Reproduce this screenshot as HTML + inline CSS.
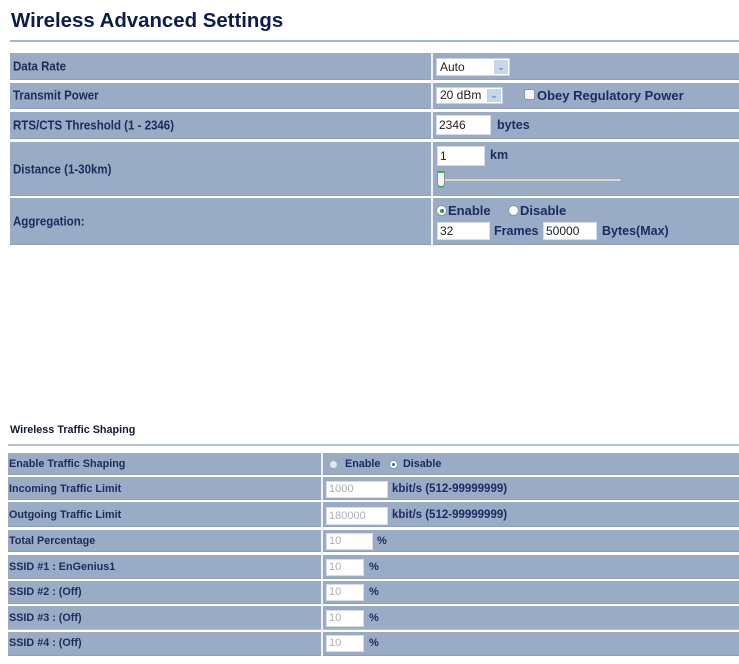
<!DOCTYPE html>
<html>
<head>
<meta charset="utf-8">
<style>
  html,body{margin:0;padding:0;background:#fff;}
  body{width:739px;height:664px;position:relative;overflow:hidden;font-family:"Liberation Sans",Arial,sans-serif;}
  .a{position:absolute;}
  .row{position:absolute;background:#9aacc5;border-bottom:1px solid #8d9fba;box-sizing:border-box;}
  .vs{position:absolute;background:#eef2f7;}
  .lbl{position:absolute;font-weight:bold;color:#1b2b5a;white-space:nowrap;line-height:1;}
  .ul{font-size:11.5px;left:13px;transform:scaleY(1.12);transform-origin:0 50%;}
  .ll{font-size:10.8px;left:9px;}
  .txt{position:absolute;font-weight:bold;color:#1b2b62;white-space:nowrap;line-height:1;}
  .inp{position:absolute;background:#fff;border:1px solid #d6dde8;box-sizing:border-box;font-size:12px;color:#222;line-height:1;padding-left:2px;white-space:nowrap;}
  .dis{color:#aab0b8;font-size:11px;}
  .sel{position:absolute;background:#fff;border:1px solid #c9d3e2;box-sizing:border-box;font-size:12px;color:#222;padding-left:3px;}
  .arr{position:absolute;top:1px;bottom:1px;right:1px;width:14px;background:#c7d6ee;color:#4a6aa0;font-size:9px;text-align:center;line-height:15px;}
</style>
</head>
<body>

<!-- ===== Upper section ===== -->
<div class="a" style="left:11px;top:9px;font-size:20.4px;font-weight:bold;color:#0c1d4c;white-space:nowrap;line-height:24px;">Wireless Advanced Settings</div>
<div class="a" style="left:10px;top:40px;width:729px;height:2px;background:#a7b5cc;"></div>

<div class="row" style="left:10px;top:53px;width:729px;height:27px;"></div>
<div class="row" style="left:10px;top:83px;width:729px;height:26px;"></div>
<div class="row" style="left:10px;top:112px;width:729px;height:27px;"></div>
<div class="row" style="left:10px;top:142px;width:729px;height:54px;"></div>
<div class="row" style="left:10px;top:198px;width:729px;height:47px;"></div>
<div class="vs" style="left:431px;top:53px;width:2px;height:192px;"></div>

<div class="lbl ul" style="top:62px;">Data Rate</div>
<div class="lbl ul" style="top:91px;">Transmit Power</div>
<div class="lbl ul" style="top:121px;">RTS/CTS Threshold (1 - 2346)</div>
<div class="lbl ul" style="top:165px;">Distance (1-30km)</div>
<div class="lbl ul" style="top:217px;">Aggregation:</div>

<!-- r1 -->
<div class="sel" style="left:436px;top:58px;width:74px;height:18px;line-height:16px;">Auto<div class="arr">&#8964;</div></div>
<!-- r2 -->
<div class="sel" style="left:436px;top:87px;width:67px;height:17px;line-height:15px;">20 dBm<div class="arr" style="line-height:13px;">&#8964;</div></div>
<div class="a" style="left:524px;top:89px;width:11px;height:11px;background:#f4f6fa;border:1px solid #8a96a8;box-sizing:border-box;border-radius:2px;"></div>
<div class="txt" style="left:537px;top:89px;font-size:13px;">Obey Regulatory Power</div>
<!-- r3 -->
<div class="inp" style="left:436px;top:115px;width:55px;height:20px;line-height:18px;">2346</div>
<div class="txt" style="left:497px;top:119px;font-size:12.5px;">bytes</div>
<!-- r4 -->
<div class="inp" style="left:437px;top:146px;width:48px;height:20px;line-height:18px;">1</div>
<div class="txt" style="left:490px;top:149px;font-size:12.5px;">km</div>
<div class="a" style="left:443px;top:178px;width:179px;height:4px;background:#d8dadc;border:1px solid #9ea4ab;box-sizing:border-box;border-radius:2px;"></div>
<div class="a" style="left:437px;top:171px;width:8px;height:17px;background:#f2f2f2;border:1px solid #8a9098;box-sizing:border-box;border-top:2px solid #3cb04a;border-bottom:2px solid #3cb04a;border-radius:1px 1px 4px 4px;"></div>
<!-- r5 -->
<div class="a" style="left:436px;top:205px;width:11px;height:11px;border-radius:50%;background:#fff;border:1px solid #8a96a8;box-sizing:border-box;"></div>
<div class="a" style="left:439.5px;top:208.5px;width:4px;height:4px;border-radius:50%;background:#2a9a3a;"></div>
<div class="txt" style="left:448px;top:204px;font-size:13px;">Enable</div>
<div class="a" style="left:508px;top:205px;width:11px;height:11px;border-radius:50%;background:#fff;border:1px solid #8a96a8;box-sizing:border-box;"></div>
<div class="txt" style="left:520px;top:204px;font-size:13px;">Disable</div>
<div class="inp" style="left:437px;top:222px;width:53px;height:18px;line-height:16px;">32</div>
<div class="txt" style="left:494px;top:225px;font-size:12.5px;">Frames</div>
<div class="inp" style="left:543px;top:222px;width:54px;height:18px;line-height:16px;">50000</div>
<div class="txt" style="left:602px;top:225px;font-size:12.5px;">Bytes(Max)</div>

<!-- ===== Lower section ===== -->
<div class="a" style="left:10px;top:424px;font-size:10.8px;font-weight:bold;color:#121a2e;white-space:nowrap;line-height:13px;">Wireless Traffic Shaping</div>
<div class="a" style="left:8px;top:444px;width:731px;height:2px;background:#b4c1d4;"></div>

<div class="row" style="left:8px;top:453px;width:731px;height:22px;"></div>
<div class="row" style="left:8px;top:477px;width:731px;height:23px;"></div>
<div class="row" style="left:8px;top:502px;width:731px;height:25px;"></div>
<div class="row" style="left:8px;top:530px;width:731px;height:22px;"></div>
<div class="row" style="left:8px;top:555px;width:731px;height:24px;"></div>
<div class="row" style="left:8px;top:581px;width:731px;height:23px;"></div>
<div class="row" style="left:8px;top:606px;width:731px;height:24px;border-bottom:1px solid #b3c1d4;"></div>
<div class="row" style="left:8px;top:632px;width:731px;height:24px;"></div>
<div class="vs" style="left:321px;top:453px;width:2px;height:203px;"></div>

<div class="lbl ll" style="top:459px;">Enable Traffic Shaping</div>
<div class="lbl ll" style="top:484px;">Incoming Traffic Limit</div>
<div class="lbl ll" style="top:510px;">Outgoing Traffic Limit</div>
<div class="lbl ll" style="top:536px;">Total Percentage</div>
<div class="lbl ll" style="top:562px;">SSID #1 : EnGenius1</div>
<div class="lbl ll" style="top:587px;">SSID #2 : (Off)</div>
<div class="lbl ll" style="top:613px;">SSID #3 : (Off)</div>
<div class="lbl ll" style="top:638px;">SSID #4 : (Off)</div>

<div class="a" style="left:329px;top:460px;width:9px;height:9px;border-radius:50%;background:#e4e8ee;border:1px solid #a0a8b4;box-sizing:border-box;"></div>
<div class="txt" style="left:345px;top:459px;font-size:10.8px;">Enable</div>
<div class="a" style="left:389px;top:460px;width:9px;height:9px;border-radius:50%;background:#fff;border:1px solid #8a96a8;box-sizing:border-box;"></div>
<div class="a" style="left:392px;top:463px;width:3px;height:3px;border-radius:50%;background:#1f6fc0;"></div>
<div class="txt" style="left:403px;top:459px;font-size:10.8px;">Disable</div>

<div class="inp dis" style="left:326px;top:481px;width:62px;height:17px;line-height:15px;">1000</div>
<div class="txt" style="left:392px;top:484px;font-size:11.5px;">kbit/s (512-99999999)</div>
<div class="inp dis" style="left:326px;top:507px;width:62px;height:18px;line-height:16px;">180000</div>
<div class="txt" style="left:392px;top:510px;font-size:11.5px;">kbit/s (512-99999999)</div>
<div class="inp dis" style="left:326px;top:533px;width:47px;height:17px;line-height:15px;">10</div>
<div class="txt" style="left:377px;top:536px;font-size:11px;">%</div>
<div class="inp dis" style="left:326px;top:559px;width:38px;height:17px;line-height:15px;">10</div>
<div class="txt" style="left:369px;top:562px;font-size:11px;">%</div>
<div class="inp dis" style="left:326px;top:584px;width:38px;height:17px;line-height:15px;">10</div>
<div class="txt" style="left:369px;top:587px;font-size:11px;">%</div>
<div class="inp dis" style="left:326px;top:610px;width:38px;height:17px;line-height:15px;">10</div>
<div class="txt" style="left:369px;top:613px;font-size:11px;">%</div>
<div class="inp dis" style="left:326px;top:635px;width:38px;height:17px;line-height:15px;">10</div>
<div class="txt" style="left:369px;top:638px;font-size:11px;">%</div>

</body>
</html>
